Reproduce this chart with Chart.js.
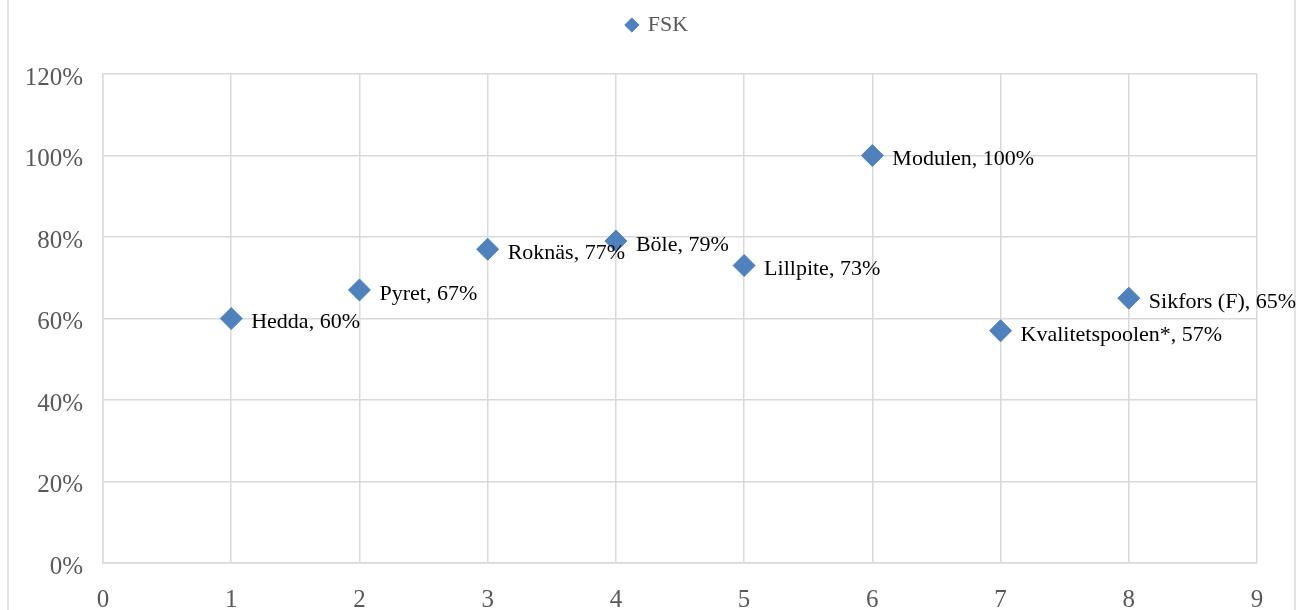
<!DOCTYPE html>
<html>
<head>
<meta charset="utf-8">
<script src="https://cdn.jsdelivr.net/npm/chart.js@4"></script>
<style>
html,body{margin:0;padding:0;background:#fff;}
#wrap{width:1297px;height:610px;}
</style>
</head>
<body>
<div id="wrap"><canvas id="c" width="1297" height="610"></canvas></div>
<script>
const names = ["Hedda", "Pyret", "Roknäs", "Böle", "Lillpite", "Modulen", "Kvalitetspoolen*", "Sikfors (F)"];
const xValues = [1, 2, 3, 4, 5, 6, 7, 8];
const yValues = [60, 67, 77, 79, 73, 100, 57, 65];
const seriesName = "FSK";

const FONT = "'Liberation Serif', 'DejaVu Serif', serif";
const GRID = "#d9d9d9";
const TICK = "#595959";
const MARK = "#4f81bd";

const frame = {
  id: 'frame',
  beforeDraw(chart) {
    const ctx = chart.ctx;
    ctx.save();
    ctx.fillStyle = '#fff';
    ctx.fillRect(0, 0, chart.width, chart.height);
    ctx.strokeStyle = GRID;
    ctx.lineWidth = 1.5;
    ctx.beginPath();
    ctx.moveTo(8, 0); ctx.lineTo(8, chart.height);
    ctx.moveTo(1295, 0); ctx.lineTo(1295, chart.height);
    ctx.stroke();
    ctx.restore();
  }
};

const legendShift = {
  id: 'legendShift',
  afterLayout(chart) {
    const lg = chart.legend;
    if (!lg) return;
    lg.top -= 28; lg.bottom -= 28;
    lg.left += 24; lg.right += 24;
  }
};

const dataLabels = {
  id: 'dataLabels',
  afterDatasetsDraw(chart) {
    const ctx = chart.ctx;
    const meta = chart.getDatasetMeta(0);
    ctx.save();
    ctx.font = "22px " + FONT;
    ctx.fillStyle = "#000";
    ctx.textAlign = 'left';
    ctx.textBaseline = 'middle';
    meta.data.forEach((pt, i) => {
      ctx.fillText(names[i] + ", " + yValues[i] + "%", pt.x + 20, pt.y + 4);
    });
    ctx.restore();
  }
};

new Chart(document.getElementById('c'), {
  type: 'scatter',
  data: {
    datasets: [{
      label: seriesName,
      data: xValues.map((x, i) => ({x: x, y: yValues[i]})),
      pointStyle: 'rectRot',
      pointRadius: 11,
      pointHoverRadius: 11,
      backgroundColor: MARK,
      borderColor: MARK,
      borderWidth: 1
    }]
  },
  options: {
    responsive: false,
    animation: false,
    devicePixelRatio: 1,
    layout: { padding: { top: 32, left: 10, right: 40, bottom: 0 } },
    plugins: {
      tooltip: { enabled: false },
      legend: {
        display: true,
        position: 'top',
        labels: {
          usePointStyle: true,
          pointStyle: 'rectRot',
          boxWidth: 10,
          boxHeight: 10,
          padding: 10,
          color: TICK,
          font: { family: FONT, size: 22 }
        }
      }
    },
    scales: {
      x: {
        type: 'linear',
        min: 0, max: 9,
        ticks: { stepSize: 1, color: TICK, font: { family: FONT, size: 25 }, padding: 22 },
        grid: { color: GRID, lineWidth: 1.5, drawTicks: false },
        border: { color: GRID, width: 1.5 },
        afterFit(scale) { scale.height = 47; }
      },
      y: {
        min: 0, max: 120,
        ticks: { stepSize: 20, color: TICK, font: { family: FONT, size: 25 }, padding: 20,
                 labelOffset: 4, callback: v => v + '%' },
        grid: { color: GRID, lineWidth: 1.5, drawTicks: false },
        border: { color: GRID, width: 1.5 },
        afterFit(scale) { scale.width = 93; }
      }
    }
  },
  plugins: [frame, legendShift, dataLabels]
});
</script>
</body>
</html>
